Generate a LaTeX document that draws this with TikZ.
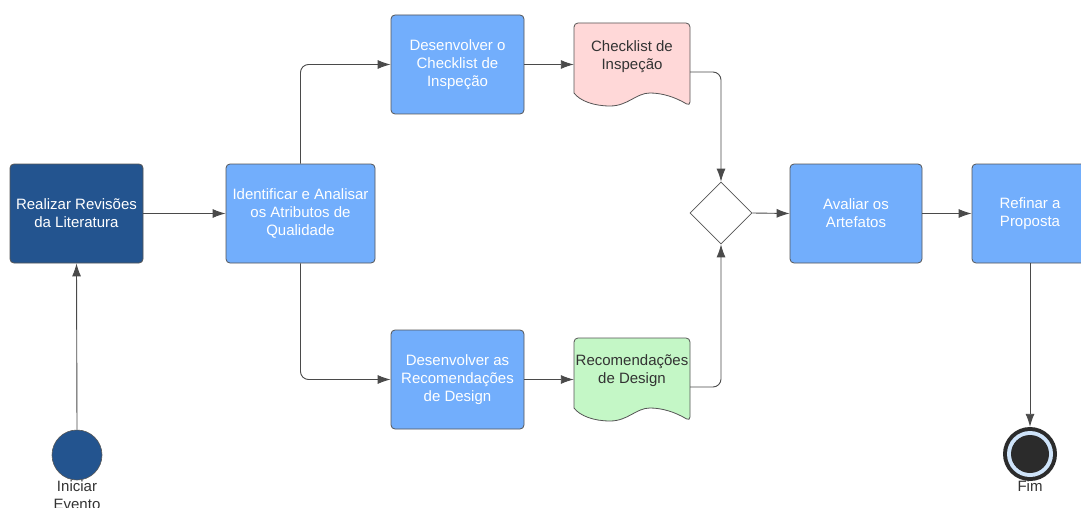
\documentclass[tikz,border=0pt]{standalone}
\usepackage{fontspec}
\setmainfont{Liberation Sans}
\usetikzlibrary{arrows.meta,shapes.geometric}
\definecolor{dblue}{HTML}{23548F}
\definecolor{lblue}{HTML}{72AEFC}
\definecolor{lineg}{HTML}{4A4A4A}
\definecolor{boxline}{HTML}{555555}
\definecolor{pinkf}{HTML}{FFD8D8}
\definecolor{greenf}{HTML}{C4F7C6}
\definecolor{txtg}{HTML}{333333}
\definecolor{ringb}{HTML}{CFE4FA}
\definecolor{darkc}{HTML}{2B2B2B}
\begin{document}
\begin{tikzpicture}[x=1pt,y=-1pt,
  txt/.style={font=\fontsize{15}{18}\selectfont, align=center},
  procbox/.style={txt, draw=boxline, line width=0.8pt, rounded corners=4pt, minimum width=#1, minimum height=99pt, inner sep=0pt, text=white, fill=lblue},
  docshape/.style={draw=boxline, line width=0.8pt},
  doclabel/.style={txt, text=txtg, minimum width=116pt, inner sep=0pt},
  conn/.style={draw=lineg, line width=0.9pt, -{Latex[length=13pt,width=9pt]}, rounded corners=8pt},
  lbl/.style={txt, text=txtg, inner sep=0pt}
]
\clip (0,0) rectangle (1081,508);
\fill[white] (0,0) rectangle (1081,508);

% process boxes
\node[procbox=133pt, fill=dblue] (real) at (76.5,213.5) {Realizar Revisões\\da Literatura};
\node[procbox=149pt] (ident) at (300.5,213.5) {Identificar e Analisar\\os Atributos de\\Qualidade};
\node[procbox=133pt] (devA) at (457.5,64.5) {Desenvolver o\\Checklist de\\Inspeção};
\node[procbox=133pt] (devB) at (457.5,379.5) {Desenvolver as\\Recomendações\\de Design};
\node[procbox=132pt] (aval) at (856,213.5) {Avaliar os\\Artefatos};
\node[procbox=116pt] (refi) at (1030,213.5) {Refinar a\\Proposta};

% documents
\draw[docshape, fill=pinkf, rounded corners=4pt] (574,93) -- (574,23) -- (690,23) -- (690,106)
  [sharp corners] .. controls (675,97) and (662,93) .. (650,93)
  .. controls (636,93) and (628,106) .. (610,106)
  .. controls (594,106) and (580,101) .. (574,93) -- cycle;
\node[doclabel] (docA) at (632,57) {Checklist de\\Inspeção};

\draw[docshape, fill=greenf, rounded corners=4pt] (574,408) -- (574,338) -- (690,338) -- (690,421)
  [sharp corners] .. controls (675,412) and (662,408) .. (650,408)
  .. controls (636,408) and (628,421) .. (610,421)
  .. controls (594,421) and (580,416) .. (574,408) -- cycle;
\node[doclabel] (docB) at (632,371) {Recomendações\\de Design};

% gateway
\node[diamond, draw=boxline, line width=0.8pt, fill=white, minimum width=62pt, minimum height=62pt, inner sep=0pt, shape aspect=1] (dia) at (721,213) {};

% start and end events
\node[circle, draw=boxline, line width=0.6pt, fill=dblue, minimum size=50pt, inner sep=0pt] (start) at (77,455) {};
\node[lbl, anchor=north] (startlbl) at (77,480) {Iniciar\\Evento};

\node[circle, fill=darkc, minimum size=54pt, inner sep=0pt] (fim) at (1030,454) {};
\fill[ringb] (fim.center) circle[radius=23];
\fill[darkc] (fim.center) circle[radius=19];
\node[lbl, anchor=north] (fimlbl) at (1030,480) {Fim};

% connectors
\draw[conn] (start.north) -- (real.south);
\draw[conn] (real.east) -- (ident.west);
\draw[conn] (ident.north) |- (devA.west);
\draw[conn] (ident.south) |- (devB.west);
\draw[conn] (devA.east) -- (devA.east -| docA.west);
\draw[conn] (devB.east) -- (devB.east -| docB.west);
\draw[conn] ([yshift=-15pt]docA.east) -| (dia.north);
\draw[conn] ([yshift=-16pt]docB.east) -| (dia.south);
\draw[conn] (dia.east) -- (aval.west);
\draw[conn] (aval.east) -- (refi.west);
\draw[conn] (refi.south) -- (fim.north);
\end{tikzpicture}
\end{document}
